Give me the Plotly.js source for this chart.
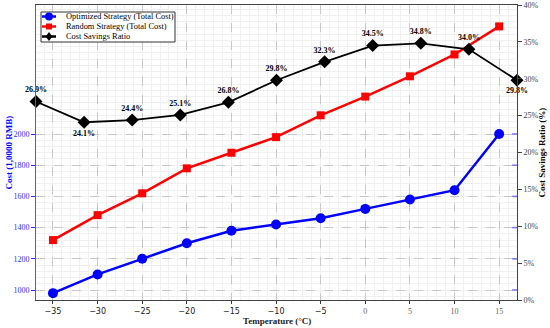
<!DOCTYPE html>
<html><head><meta charset="utf-8">
<script src="https://cdn.plot.ly/plotly-3.0.1.min.js"></script>
<style>html,body{margin:0;padding:0;background:#fff}#c{width:550px;height:328px}</style>
</head><body><div id="c"></div>
<script>
var temps = [-35, -30, -25, -20, -15, -10, -5, 0, 5, 10, 15];
var optimizedCost = [980, 1100, 1200, 1300, 1380, 1420, 1460, 1520, 1580, 1640, 2000];
var randomCost = [1320, 1480, 1620, 1780, 1880, 1980, 2120, 2240, 2370, 2510, 2690];
var savingsIdx = [0, 1, 2, 3, 4, 5, 6, 7, 8, 9, 10];
var savingsRatio = [26.9, 24.1, 24.4, 25.1, 26.8, 29.8, 32.3, 34.5, 34.8, 34.0, 29.8];
var savingsLabelPos = ['top center','bottom center','top center','top center','top center','top center','top center','top center','top center','top center','bottom center'];
var leftTicks = [1000, 1200, 1400, 1600, 1800, 2000];
var rightTicks = [0, 5, 10, 15, 20, 25, 30, 35, 40];
var seriesNames = ['Optimized Strategy (Total Cost)', 'Random Strategy (Total Cost)', 'Cost Savings Ratio'];
var seriesColors = ['#0000ff', '#ff0000', '#000000'];

var serif = 'Liberation Serif, Times New Roman, serif';
var sans = 'DejaVu Sans, sans-serif';

var traces = [
 {x: temps, y: optimizedCost, mode: 'lines+markers', name: seriesNames[0],
  line: {color: seriesColors[0], width: 2.5}, marker: {symbol: 'circle', size: 10, color: seriesColors[0]}},
 {x: temps, y: randomCost, mode: 'lines+markers', name: seriesNames[1],
  line: {color: seriesColors[1], width: 2.5}, marker: {symbol: 'square', size: 8, color: seriesColors[1]}},
 {x: savingsIdx, y: savingsRatio, xaxis: 'x2', yaxis: 'y2', mode: 'lines+markers+text', name: seriesNames[2],
  text: savingsRatio.map(function(v){return v.toFixed(1)+'%';}), textposition: savingsLabelPos,
  textfont: {family: serif, size: 8, color: '#000', weight: 'bold'},
  line: {color: seriesColors[2], width: 1.8}, marker: {symbol: 'diamond', size: 10, color: seriesColors[2]}, cliponaxis: false}
];

// plot area in px: x 36..517, y 5..300
function px(x){ return (x - 36) / 481; }
function py(y){ return (300 - y) / 295; }

var shapes = leftTicks.map(function(v){
  return {type: 'line', xref: 'paper', yref: 'y', x0: 0.99, x1: 1, y0: v, y1: v, line: {color: '#7070ff', width: 1.5}};
});
// legend box
shapes.push({type: 'rect', xref: 'paper', yref: 'paper', x0: px(41), x1: px(175), y0: py(42), y1: py(12),
  fillcolor: '#fff', line: {color: '#333', width: 1}, layer: 'above'});
var rowsY = [16.5, 26.5, 36.5];
var annotations = [];
rowsY.forEach(function(ry, i){
  shapes.push({type: 'line', xref: 'paper', yref: 'paper', x0: px(42), x1: px(56), y0: py(ry), y1: py(ry),
    line: {color: seriesColors[i], width: 2.5}, layer: 'above'});
  var cx = 49, r;
  if (i === 0) {
    r = 4;
    shapes.push({type: 'circle', xref: 'paper', yref: 'paper', x0: px(cx - r), x1: px(cx + r), y0: py(ry + r), y1: py(ry - r),
      fillcolor: seriesColors[i], line: {color: seriesColors[i], width: 0}, layer: 'above'});
  } else if (i === 1) {
    r = 3;
    shapes.push({type: 'rect', xref: 'paper', yref: 'paper', x0: px(cx - r), x1: px(cx + r), y0: py(ry + r), y1: py(ry - r),
      fillcolor: seriesColors[i], line: {color: seriesColors[i], width: 0}, layer: 'above'});
  } else {
    r = 4.5;
    var p = 'M' + px(cx) + ',' + py(ry - r) + ' L' + px(cx + r * 0.75) + ',' + py(ry) + ' L' + px(cx) + ',' + py(ry + r) + ' L' + px(cx - r * 0.75) + ',' + py(ry) + ' Z';
    shapes.push({type: 'path', xref: 'paper', yref: 'paper', path: p, fillcolor: seriesColors[i], line: {color: seriesColors[i], width: 0}, layer: 'above'});
  }
  annotations.push({xref: 'paper', yref: 'paper', x: px(64), y: py(ry), xanchor: 'left', yanchor: 'middle', showarrow: false,
    text: seriesNames[i], font: {family: serif, size: 8.4, color: '#000'}});
});
annotations.push({xref: 'paper', yref: 'paper', x: px(277), y: py(321), xanchor: 'center', yanchor: 'middle', showarrow: false,
  text: '<b>Temperature (°C)</b>', font: {family: serif, size: 9, color: '#222'}});
annotations.push({xref: 'paper', yref: 'paper', x: px(8), y: 0.5, xanchor: 'center', yanchor: 'middle', showarrow: false, textangle: -90,
  text: '<b>Cost (1,0000 RMB)</b>', font: {family: serif, size: 9, color: '#0000ff'}});
annotations.push({xref: 'paper', yref: 'paper', x: px(541), y: 0.5, xanchor: 'center', yanchor: 'middle', showarrow: false, textangle: -90,
  text: '<b>Cost Savings Ratio (%)</b>', font: {family: serif, size: 9, color: '#000'}});

var layout = {
  width: 550, height: 328,
  margin: {l: 36, r: 33, t: 5, b: 28},
  paper_bgcolor: '#fff', plot_bgcolor: '#fff',
  showlegend: false,
  xaxis: {range: [-36.9, 17], tickvals: temps,
    ticktext: temps.map(function(v){return v < 0 ? '\u2212' + Math.abs(v) : '<span style="font-family:Liberation Serif;fill:#666">' + v + '</span>';}),
    tickfont: {family: sans, size: 8, color: '#222'}, ticks: 'outside', ticklen: 3, tickcolor: '#333',
    showline: true, linecolor: '#444', linewidth: 1, mirror: true,
    showgrid: true, gridcolor: '#c8c8c8', griddash: 'dash', gridwidth: 1, zeroline: false,
    minor: {dtick: 1, showgrid: true, gridcolor: '#f0f0f0', gridwidth: 1, griddash: 'solid'}},
  xaxis2: {overlaying: 'x', range: [0, 10], visible: false, showgrid: false, zeroline: false},
  yaxis: {range: [936, 2827], tickvals: leftTicks, tickfont: {family: serif, size: 8, color: '#3030ff'},
    ticks: 'outside', ticklen: 4, tickcolor: '#3030ff', showline: true, linecolor: '#5050ff', linewidth: 1,
    showgrid: true, gridcolor: '#c8c8c8', griddash: 'dash', gridwidth: 1, zeroline: false,
    minor: {dtick: 40, showgrid: true, gridcolor: '#f0f0f0', gridwidth: 1, griddash: 'solid'}},
  yaxis2: {overlaying: 'y', side: 'right', range: [0, 40], tickvals: rightTicks, ticktext: rightTicks.map(function(v){return v + '%';}),
    tickfont: {family: serif, size: 8, color: '#444'}, ticks: 'outside', ticklen: 4, tickcolor: '#444',
    showline: true, linecolor: '#444', linewidth: 1, showgrid: false, zeroline: false},
  shapes: shapes,
  annotations: annotations
};
Plotly.newPlot('c', traces, layout, {displayModeBar: false, staticPlot: true});
</script></body></html>
